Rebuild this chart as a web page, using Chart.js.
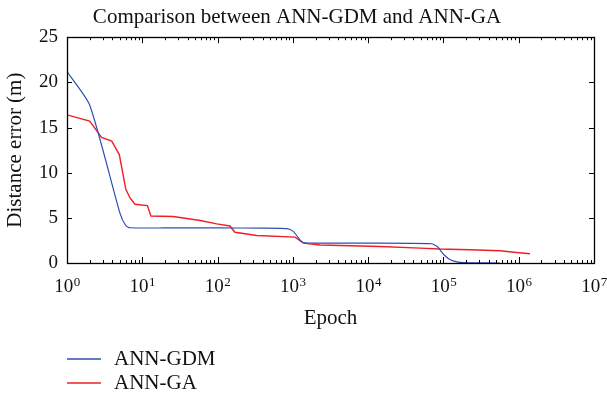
<!DOCTYPE html>
<html>
<head>
<meta charset="utf-8">
<script src="https://cdn.jsdelivr.net/npm/chart.js@4/dist/chart.umd.min.js"></script>
<style>
html,body{margin:0;padding:0;background:#fff;}
#wrap{width:607px;height:398px;position:relative;}
</style>
</head>
<body>
<div id="wrap"><canvas id="c" width="607" height="398"></canvas></div>
<script>
const chartTitle = "Comparison between ANN-GDM and ANN-GA";
const xTitle = "Epoch";
const yTitle = "Distance error (m)";
const seriesNames = ["ANN-GDM", "ANN-GA"];
const xTickExponents = [0, 1, 2, 3, 4, 5, 6, 7];
const yTicks = [0, 5, 10, 15, 20, 25];

const gdmEpoch = [1, 2, 5.06, 6.03, 6.87, 20, 100, 398, 832, 1012, 1242, 1380, 2000, 10000, 69000, 85000, 93000, 105000, 123000, 158000, 224000, 562000];
const gdmError = [21.2, 17.5, 5.5, 4.15, 3.9, 3.88, 3.88, 3.86, 3.8, 3.5, 2.57, 2.27, 2.2, 2.2, 2.13, 1.75, 1.3, 0.8, 0.36, 0.1, 0.02, 0.0];

const gaEpoch = [1, 2, 2.88, 3.93, 4.95, 6.03, 6.87, 8, 11.7, 13, 25.7, 58.9, 97.7, 146, 170, 331, 1072, 1380, 2290, 14450, 49000, 89000, 224000, 562000, 933000, 1410000];
const gaError = [16.4, 15.7, 13.9, 13.5, 12.0, 8.2, 7.2, 6.5, 6.36, 5.2, 5.15, 4.7, 4.33, 4.1, 3.4, 3.05, 2.87, 2.2, 2.0, 1.83, 1.65, 1.55, 1.47, 1.36, 1.17, 1.03];

const colors = ["#2f4fb0", "#ee1f26"];
const FONT = "'Liberation Serif', 'Times New Roman', serif";
const FS = 21;
const TICK_FS = 19;

function pts(xs, ys){ return xs.map((x,i)=>({x:x, y:ys[i]})); }

const framePlugin = {
  id: 'frame',
  afterDraw(chart){
    const ctx = chart.ctx, a = chart.chartArea;
    const xs = chart.scales.x, ys = chart.scales.y;
    ctx.save();
    ctx.strokeStyle = '#000';
    ctx.lineWidth = 1;
    ctx.beginPath();
    for (let d = 0; d <= 7; d++) {
      for (let m = 1; m <= 9; m++) {
        if (d === 7 && m > 1) break;
        const v = m * Math.pow(10, d);
        const px = Math.round(xs.getPixelForValue(v)) + 0.5;
        const len = (m === 1) ? 6 : 3;
        ctx.moveTo(px, a.bottom); ctx.lineTo(px, a.bottom - len);
        ctx.moveTo(px, a.top); ctx.lineTo(px, a.top + len);
      }
    }
    yTicks.forEach(v => {
      const py = Math.round(ys.getPixelForValue(v)) + 0.5;
      ctx.moveTo(a.left, py); ctx.lineTo(a.left + 5, py);
      ctx.moveTo(a.right, py); ctx.lineTo(a.right - 5, py);
    });
    ctx.stroke();
    ctx.lineWidth = 1.3;
    ctx.strokeRect(Math.round(a.left)+0.5, Math.round(a.top)+0.5, Math.round(a.right - a.left), Math.round(a.bottom - a.top));

    // x tick labels: 10 with superscript exponent
    ctx.fillStyle = '#111';
    ctx.textBaseline = 'alphabetic';
    ctx.textAlign = 'left';
    xTickExponents.forEach(e => {
      const px = xs.getPixelForValue(Math.pow(10, e));
      ctx.font = TICK_FS + "px " + FONT;
      const base = "10";
      const w1 = ctx.measureText(base).width;
      ctx.font = "13px " + FONT;
      const sup = String(e);
      const w2 = ctx.measureText(sup).width;
      const x0 = px - (w1 + w2) / 2;
      ctx.font = TICK_FS + "px " + FONT;
      ctx.fillText(base, x0, a.bottom + 28.5);
      ctx.font = "13px " + FONT;
      ctx.fillText(sup, x0 + w1 + 0.5, a.bottom + 22.5);
    });

    // legend
    ctx.font = FS + "px " + FONT;
    ctx.textBaseline = 'middle';
    const ly = [359, 383];
    chart.data.datasets.forEach((ds, i) => {
      ctx.strokeStyle = ds.borderColor;
      ctx.lineWidth = 1.3;
      ctx.beginPath();
      ctx.moveTo(67, ly[i]); ctx.lineTo(101, ly[i]);
      ctx.stroke();
      ctx.fillStyle = '#111';
      ctx.fillText(ds.label, 114, ly[i]);
    });
    ctx.restore();
  }
};

new Chart(document.getElementById('c'), {
  type: 'line',
  data: {
    datasets: [
      { label: seriesNames[0], data: pts(gdmEpoch, gdmError), borderColor: colors[0], borderWidth: 1.2, pointRadius: 0, tension: 0.2, fill: false },
      { label: seriesNames[1], data: pts(gaEpoch, gaError), borderColor: colors[1], borderWidth: 1.4, pointRadius: 0, tension: 0, fill: false }
    ]
  },
  options: {
    responsive: false,
    animation: false,
    layout: { padding: { left: 0, right: 13, top: 0, bottom: 65 } },
    plugins: {
      legend: { display: false },
      tooltip: { enabled: false },
      title: {
        display: true, text: chartTitle, color: '#111',
        font: { family: FONT, size: FS, weight: 'normal' },
        padding: { top: 5, bottom: 7 }
      }
    },
    scales: {
      x: {
        type: 'logarithmic', min: 1, max: 1e7,
        grid: { display: false, drawTicks: false },
        border: { display: false },
        ticks: { display: false },
        title: { display: true, text: xTitle, color: '#111', font: { family: FONT, size: FS }, padding: { top: 2, bottom: 2 } },
        afterFit(scale){ scale.height = 70; scale.paddingLeft = 0; scale.paddingRight = 0; }
      },
      y: {
        min: 0, max: 25,
        grid: { display: false, drawTicks: false },
        border: { display: false },
        afterBuildTicks(scale){ scale.ticks = yTicks.map(v => ({value: v})); },
        ticks: { padding: 9, color: '#111', font: { family: FONT, size: TICK_FS } },
        title: { display: true, text: yTitle, color: '#111', font: { family: FONT, size: FS }, padding: { top: 3, bottom: 0 } },
        afterFit(scale){ scale.width = 67; }
      }
    }
  },
  plugins: [framePlugin]
});
</script>
</body>
</html>
